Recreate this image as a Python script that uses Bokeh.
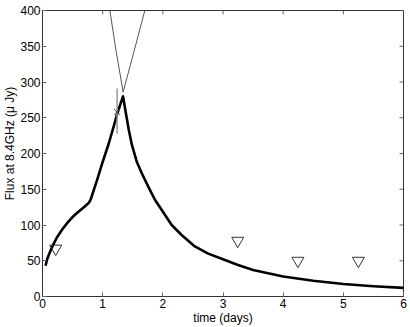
from bokeh.plotting import figure
from bokeh.models import Range1d, FixedTicker
from bokeh.embed import file_html
from bokeh.resources import INLINE

# Model light curve (thick black line)
curve_t = [0.05, 0.083, 0.138, 0.193, 0.248, 0.33, 0.413, 0.495, 0.578, 0.688, 0.771, 0.798,
           0.90, 0.991, 1.101, 1.211, 1.24, 1.338,
           1.387, 1.432, 1.486, 1.569, 1.652, 1.762, 1.871, 1.982, 2.147, 2.312, 2.532,
           2.753, 3.0, 3.25, 3.5, 4.0, 4.5, 5.0, 5.5, 6.0]
curve_flux = [43, 53.6, 65, 75, 83.7, 94, 103, 110.8, 117.2, 124.8, 131.2, 135,
              161, 186, 214, 246, 255, 280,
              256, 234, 212, 188, 172, 153, 135, 121, 100, 86, 70,
              60, 52, 44, 37, 28, 22, 17.5, 14.3, 12]

# Thin grey asymptote lines
rise_t = [1.12, 1.222, 1.34]
rise_flux = [400, 344, 286]
fall_t = [1.34, 1.525, 1.70]
fall_flux = [286, 344, 400]

# Detection with error bar
det_t = [1.24]
det_flux = [258]
det_lo = [228]
det_hi = [291]

# Upper limits
ul_t = [0.22, 3.245, 4.245, 5.25]
ul_flux = [67, 78, 50, 50]

X_MIN, X_MAX = 0, 6
Y_MIN, Y_MAX = 0, 400
x_ticks = [0, 1, 2, 3, 4, 5, 6]
y_ticks = [0, 50, 100, 150, 200, 250, 300, 350, 400]

FONT = "Liberation Sans"
NB = "\u00a0"

p = figure(width=410, height=327, output_backend="svg", toolbar_location=None,
           x_range=Range1d(X_MIN, X_MAX), y_range=Range1d(Y_MIN, Y_MAX),
           min_border_left=40, min_border_right=7, min_border_top=10, min_border_bottom=30,
           x_axis_label="time (days)",
           y_axis_label=NB * 6 + "Flux at 8.4GHz (\u03bc Jy)")
p.xgrid.visible = False
p.ygrid.visible = False
p.outline_line_color = "#333333"
p.outline_line_width = 1
p.background_fill_color = "white"
p.border_fill_color = "white"


def style(ax, ticks):
    ax.ticker = FixedTicker(ticks=ticks)
    ax.major_tick_in = 4
    ax.major_tick_out = 0
    ax.minor_tick_in = 0
    ax.minor_tick_out = 0
    ax.axis_line_color = "#333333"
    ax.major_tick_line_color = "#666666"
    ax.major_label_text_font = FONT
    ax.major_label_text_color = "black"
    ax.major_label_text_font_size = "12px"
    ax.major_label_standoff = 2
    ax.axis_label_text_font = FONT
    ax.axis_label_text_font_size = "12px"
    ax.axis_label_text_font_style = "normal"
    ax.axis_label_text_color = "black"
    ax.axis_label_standoff = 0


style(p.xaxis[0], x_ticks)
style(p.yaxis[0], y_ticks)

# inward ticks on the top and right edges of the box
p.ray(x=x_ticks, y=[Y_MAX] * len(x_ticks), length=4, length_units="screen",
      angle=-90, angle_units="deg", line_color="#666666", line_width=1)
p.ray(x=[X_MAX] * len(y_ticks), y=y_ticks, length=4, length_units="screen",
      angle=180, angle_units="deg", line_color="#666666", line_width=1)

# thin grey lines
p.line(rise_t, rise_flux, line_color="#555555", line_width=1)
p.line(fall_t, fall_flux, line_color="#555555", line_width=1)

# model curve
p.line(curve_t, curve_flux, line_color="black", line_width=2.6, line_join="round")

# detection
p.segment(x0=det_t, y0=det_lo, x1=det_t, y1=det_hi, line_color="#999999", line_width=1.5)
p.scatter(det_t, det_flux, marker="x", size=8, line_color="#444444", line_width=1)

# upper limits
p.scatter(ul_t, ul_flux, marker="inverted_triangle", size=12, fill_color=None,
          line_color="#333333", line_width=1)

open("out.html", "w").write(file_html(p, INLINE))
